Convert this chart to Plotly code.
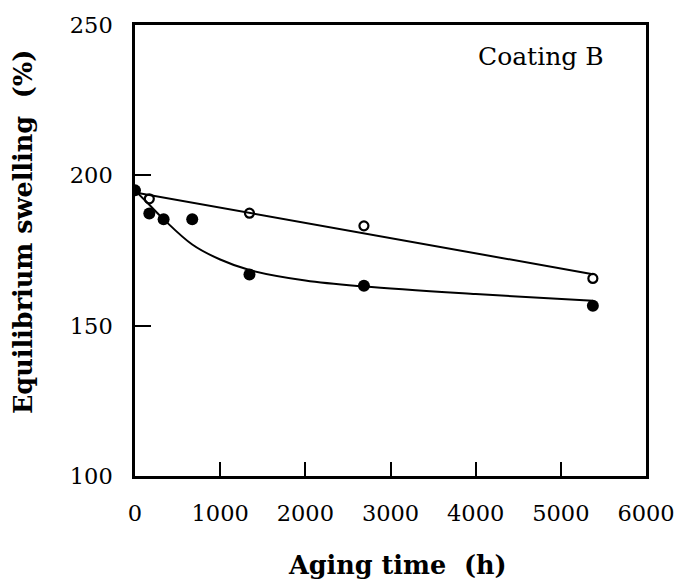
import plotly.graph_objects as go

time_filled = [0, 168, 336, 672, 1344, 2688, 5376]
swell_filled = [195.0, 187.3, 185.4, 185.4, 167.0, 163.3, 156.6]
time_open = [168, 1344, 2688, 5376]
swell_open = [192.2, 187.4, 183.2, 165.7]

# Hand-drawn trend curves
curve_filled_t = [0, 168, 336, 672, 1000, 1344, 2000, 2688, 4000, 5376]
curve_filled_y = [195.0, 190.2, 185.4, 177.0, 172.0, 168.5, 165.0, 163.0, 160.5, 158.3]
curve_open_t = [0, 5376]
curve_open_y = [194.3, 167.1]

x_ticks = [0, 1000, 2000, 3000, 4000, 5000, 6000]
y_ticks = [100, 150, 200, 250]

FONT = "DejaVu Serif"

fig = go.Figure()
fig.add_trace(go.Scatter(x=curve_open_t, y=curve_open_y, mode="lines",
                         line=dict(color="black", width=2), showlegend=False))
fig.add_trace(go.Scatter(x=curve_filled_t, y=curve_filled_y, mode="lines",
                         line=dict(color="black", width=2, shape="spline", smoothing=1.0),
                         showlegend=False))
fig.add_trace(go.Scatter(x=time_open, y=swell_open, mode="markers",
                         marker=dict(symbol="circle-open", size=9, color="black",
                                     line=dict(width=2.2)), showlegend=False))
fig.add_trace(go.Scatter(x=time_filled, y=swell_filled, mode="markers",
                         marker=dict(symbol="circle", size=12, color="black"),
                         showlegend=False))

axis_common = dict(showline=True, linecolor="black", linewidth=2.5, mirror=True,
                   ticks="inside", tickcolor="black", tickwidth=2, showgrid=False,
                   zeroline=False, tickfont=dict(family=FONT, size=22.5, color="black"))

fig.update_xaxes(range=[0, 6000], tickvals=x_ticks, ticklen=14,
                 ticklabelstandoff=15, **axis_common)
fig.update_yaxes(range=[100, 250], tickvals=y_ticks, ticklen=16,
                 ticklabelstandoff=15, **axis_common)

fig.add_annotation(text="Coating B", x=0.921, y=0.93, xref="paper", yref="paper",
                   xanchor="right", yanchor="middle", showarrow=False,
                   font=dict(family=FONT, size=25, color="black"))
fig.add_annotation(text="<b>Aging time  (h)</b>", x=0.514, xref="paper",
                   y=-0.198, yref="paper", xanchor="center", yanchor="middle",
                   showarrow=False, font=dict(family=FONT, size=25.5, color="black"))
fig.add_annotation(text="<b>Equilibrium swelling  (%)</b>", x=-0.218, xref="paper",
                   y=0.54, yref="paper", xanchor="center", yanchor="middle",
                   textangle=-90, showarrow=False,
                   font=dict(family=FONT, size=25.5, color="black"))

fig.update_layout(width=687, height=585, plot_bgcolor="white", paper_bgcolor="white",
                  margin=dict(l=135, r=33, t=17, b=109))

fig.write_html("out.html")
